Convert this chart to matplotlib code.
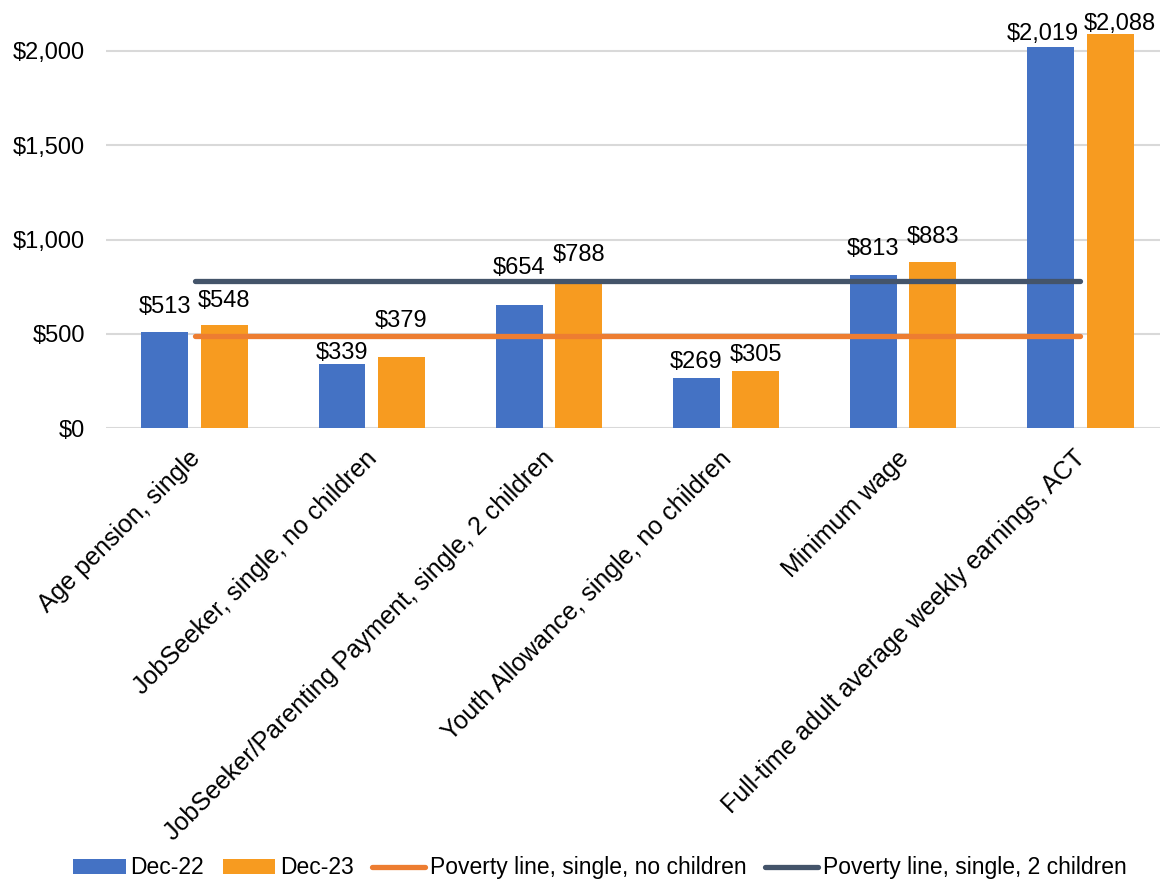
import numpy as np
import matplotlib
matplotlib.use('Agg')
import matplotlib.pyplot as plt
import matplotlib.transforms as mtransforms
from matplotlib.ticker import FuncFormatter

plt.rcParams['font.family'] = ['Liberation Sans', 'DejaVu Sans']

categories = ['Age pension, single',
              'JobSeeker, single, no children',
              'JobSeeker/Parenting Payment, single, 2 children',
              'Youth Allowance, single, no children',
              'Minimum wage',
              'Full-time adult average weekly earnings, ACT']
dec22 = [513, 339, 654, 269, 813, 2019]
dec23 = [548, 379, 788, 305, 883, 2088]
poverty_no_kids = [489] * 6
poverty_2_kids = [780] * 6

# label offsets in pixels (dx, dy) above each bar top
off22 = [(0, 25), (0, 11), (0, 37), (0, 16), (0, 26), (-8, 13)]
off23 = [(0, 24), (0, 36), (0, 25), (0, 16), (0, 25), (10, 10)]

blue = '#4472C4'
orange = '#F79B20'
line_orange = '#ED7D31'
line_dark = '#44546A'

fig = plt.figure(figsize=(11.6, 8.82), dpi=100)
ax = fig.add_axes([0.0914, 0.5144, 1.0 - 0.0914, 0.9636 - 0.5144])

x = np.arange(len(categories))
w = 0.265
b1 = ax.bar(x - 0.168, dec22, w, color=blue, label='Dec-22', zorder=2)
b2 = ax.bar(x + 0.168, dec23, w, color=orange, label='Dec-23', zorder=2)

ax.plot(x, poverty_no_kids, color=line_orange, linewidth=3.8,
        solid_capstyle='round', label='Poverty line, single, no children', zorder=3)
ax.plot(x, poverty_2_kids, color=line_dark, linewidth=3.8,
        solid_capstyle='round', label='Poverty line, single, 2 children', zorder=3)

for bars, vals, offs in [(b1, dec22, off22), (b2, dec23, off23)]:
    for r, v, (dx, dy) in zip(bars, vals, offs):
        ax.annotate('${:,}'.format(v),
                    (r.get_x() + r.get_width() / 2, v),
                    xytext=(dx, dy), textcoords='offset pixels',
                    ha='center', va='center', fontsize=17, zorder=4)

ax.set_xlim(-0.5, 5.45)
ax.set_ylim(0, 2100)
ax.set_yticks([0, 500, 1000, 1500, 2000])
ax.yaxis.set_major_formatter(FuncFormatter(lambda v, p: '${:,.0f}'.format(v)))
ax.grid(axis='y', color='#D9D9D9', linewidth=1.5, zorder=0)
ax.set_axisbelow(True)
for s in ax.spines.values():
    s.set_visible(False)
ax.tick_params(axis='y', length=0, labelsize=17, pad=15)
ax.tick_params(axis='x', length=0, labelsize=18, pad=13)
ax.set_xticks(x)
ax.set_xticklabels(categories, rotation=45, ha='right', va='top',
                   rotation_mode='anchor')
shift = mtransforms.ScaledTranslation(-0.07, 0, fig.dpi_scale_trans)
for lbl in ax.get_xticklabels():
    lbl.set_transform(lbl.get_transform() + shift)

handles, labels = ax.get_legend_handles_labels()
order = [2, 3, 0, 1]
ax.legend([handles[i] for i in order], [labels[i] for i in order],
          loc='center', bbox_to_anchor=(0.517, 0.016), bbox_transform=fig.transFigure,
          ncol=4, frameon=False, fontsize=16.5, handlelength=2.3, handleheight=0.6,
          columnspacing=0.8, handletextpad=0.22, borderpad=0)

fig.savefig('out.png', dpi=100)
